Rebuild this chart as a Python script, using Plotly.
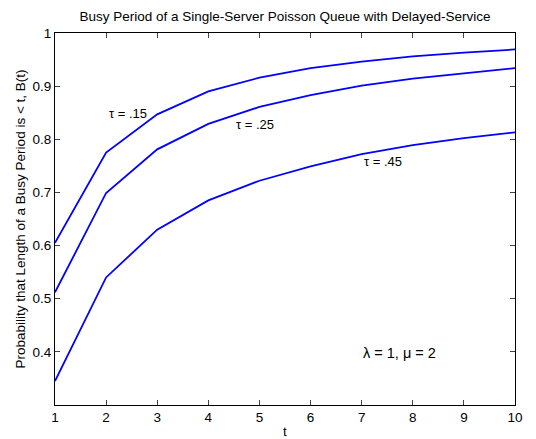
import plotly.graph_objects as go

t = [1, 2, 3, 4, 5, 6, 7, 8, 9, 10]
b_015 = [0.605, 0.775, 0.847, 0.890, 0.916, 0.934, 0.946, 0.956, 0.963, 0.969]
b_025 = [0.512, 0.699, 0.781, 0.829, 0.861, 0.883, 0.901, 0.914, 0.924, 0.934]
b_045 = [0.345, 0.540, 0.630, 0.685, 0.722, 0.749, 0.772, 0.789, 0.802, 0.813]
y_ticks = [0.4, 0.5, 0.6, 0.7, 0.8, 0.9, 1]
y_labels = ["0.4", "0.5", "0.6", "0.7", "0.8", "0.9", "1"]

fig = go.Figure()
for ys in (b_015, b_025, b_045):
    fig.add_trace(go.Scatter(x=t, y=ys, mode="lines",
                             line=dict(color="#0000ff", width=1.8), showlegend=False))

font = "Liberation Sans, Arial, Helvetica, sans-serif"
ann = [
    (2.43, 0.848, "τ = .15", 13),
    (4.91, 0.827, "τ = .25", 13),
    (7.42, 0.758, "τ = .45", 13),
    (7.74, 0.398, "λ = 1, μ = 2", 14.5),
]
for x, y, txt, sz in ann:
    fig.add_annotation(x=x, y=y, text=txt, showarrow=False,
                       font=dict(family=font, size=sz, color="black"))

fig.update_layout(
    width=536, height=439,
    margin=dict(l=55, r=21, t=33, b=34, autoexpand=False),
    paper_bgcolor="white", plot_bgcolor="white",
    font=dict(family=font, size=13.5, color="black"),
    title=dict(text="Busy Period of a Single-Server Poisson Queue with Delayed-Service",
               xref="paper", x=0.5, xanchor="center", y=0.962, yanchor="middle",
               font=dict(size=13.5), automargin=False),
)
fig.update_xaxes(range=[1, 10], tickvals=t, ticks="inside", ticklen=5,
                 showline=True, linecolor="black", linewidth=1, mirror="ticks",
                 showgrid=False, zeroline=False, automargin=False,
                 title=dict(text="t", standoff=2, font=dict(size=13.5)))
fig.update_yaxes(range=[0.3, 1], tickvals=y_ticks, ticktext=y_labels,
                 ticks="inside", ticklen=5,
                 showline=True, linecolor="black", linewidth=1, mirror="ticks",
                 showgrid=False, zeroline=False, automargin=False,
                 title=dict(text="Probability that Length of a Busy Period is < t, B(t)",
                            standoff=3, font=dict(size=13.5)))

fig.write_html("out.html", config={"displayModeBar": False},
               post_script="document.body.style.margin='0px';document.body.style.overflow='hidden';")
